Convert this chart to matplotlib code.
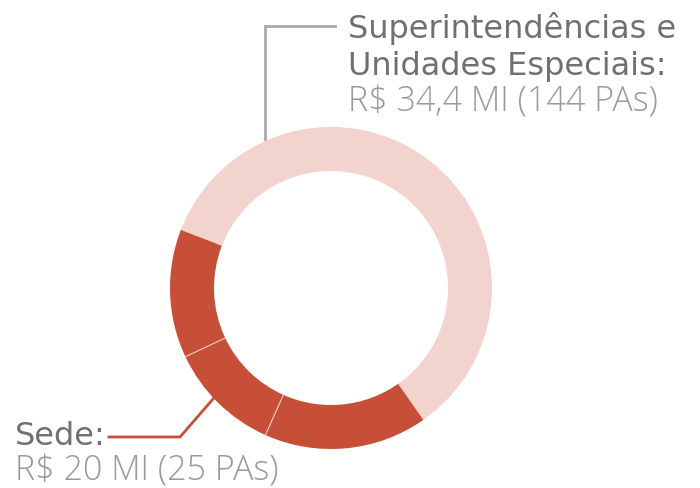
import numpy as np
import matplotlib
matplotlib.use("Agg")
import matplotlib.pyplot as plt

# slice shares (percent of the ring)
labels = ["Superintendências e", "Unidades Especiais:", "Sede:"]
values = ["R$ 34,4 MI (144 PAs)", "R$ 20 MI (25 PAs)"]
super_share = [59.4]
sede_shares = [12.9, 11.3, 16.4]

pink = "#F2D3CE"
red = "#C84F37"
label_gray = "#707070"
value_gray = "#9a9a9a"

plt.rcParams['font.family'] = ['Open Sans', 'DejaVu Sans']

fig = plt.figure(figsize=(7, 4.89), dpi=100)
ax = fig.add_axes([0, 0, 1, 1])

cx, cy, r = 331, 200, 161
shares = super_share + sede_shares
colors = [pink] + [red] * len(sede_shares)
start = 305
wedges, _ = ax.pie(shares, colors=colors, startangle=start, counterclock=True,
                   center=(cx, cy), radius=r, frame=True,
                   wedgeprops=dict(width=44, linewidth=0))
ax.set_xlim(0, 700)
ax.set_ylim(0, 489)
ax.set_aspect('equal')
ax.axis('off')

# thin light separators inside the red part
cum = start + np.cumsum(shares) / 100 * 360
for a in cum[1:-1]:
    t = np.deg2rad(a)
    ax.plot([cx + (r - 44) * np.cos(t), cx + r * np.cos(t)],
            [cy + (r - 44) * np.sin(t), cy + r * np.sin(t)],
            color="#f0c9c0", lw=0.8)

# leader lines
ax.plot([265, 265, 335], [489 - 140, 489 - 27, 489 - 27], color="#aaaaaa", lw=2,
        solid_joinstyle='miter')
ax.plot([213, 180, 109], [489 - 400, 489 - 438, 489 - 438], color=red, lw=2,
        solid_joinstyle='miter')

lab = dict(fontsize=23, color=label_gray, family=['DejaVu Sans'], va='baseline')
val = dict(fontsize=24.5, color=value_gray, fontweight='light', va='baseline')
ax.text(348, 489 - 38, labels[0], **lab)
ax.text(348, 489 - 75, labels[1], **lab)
ax.text(348, 489 - 112, values[0], **val)
ax.text(15, 489 - 445, labels[2], **lab)
ax.text(15, 489 - 481, values[1], **val)

fig.savefig("out.png", dpi=100)
